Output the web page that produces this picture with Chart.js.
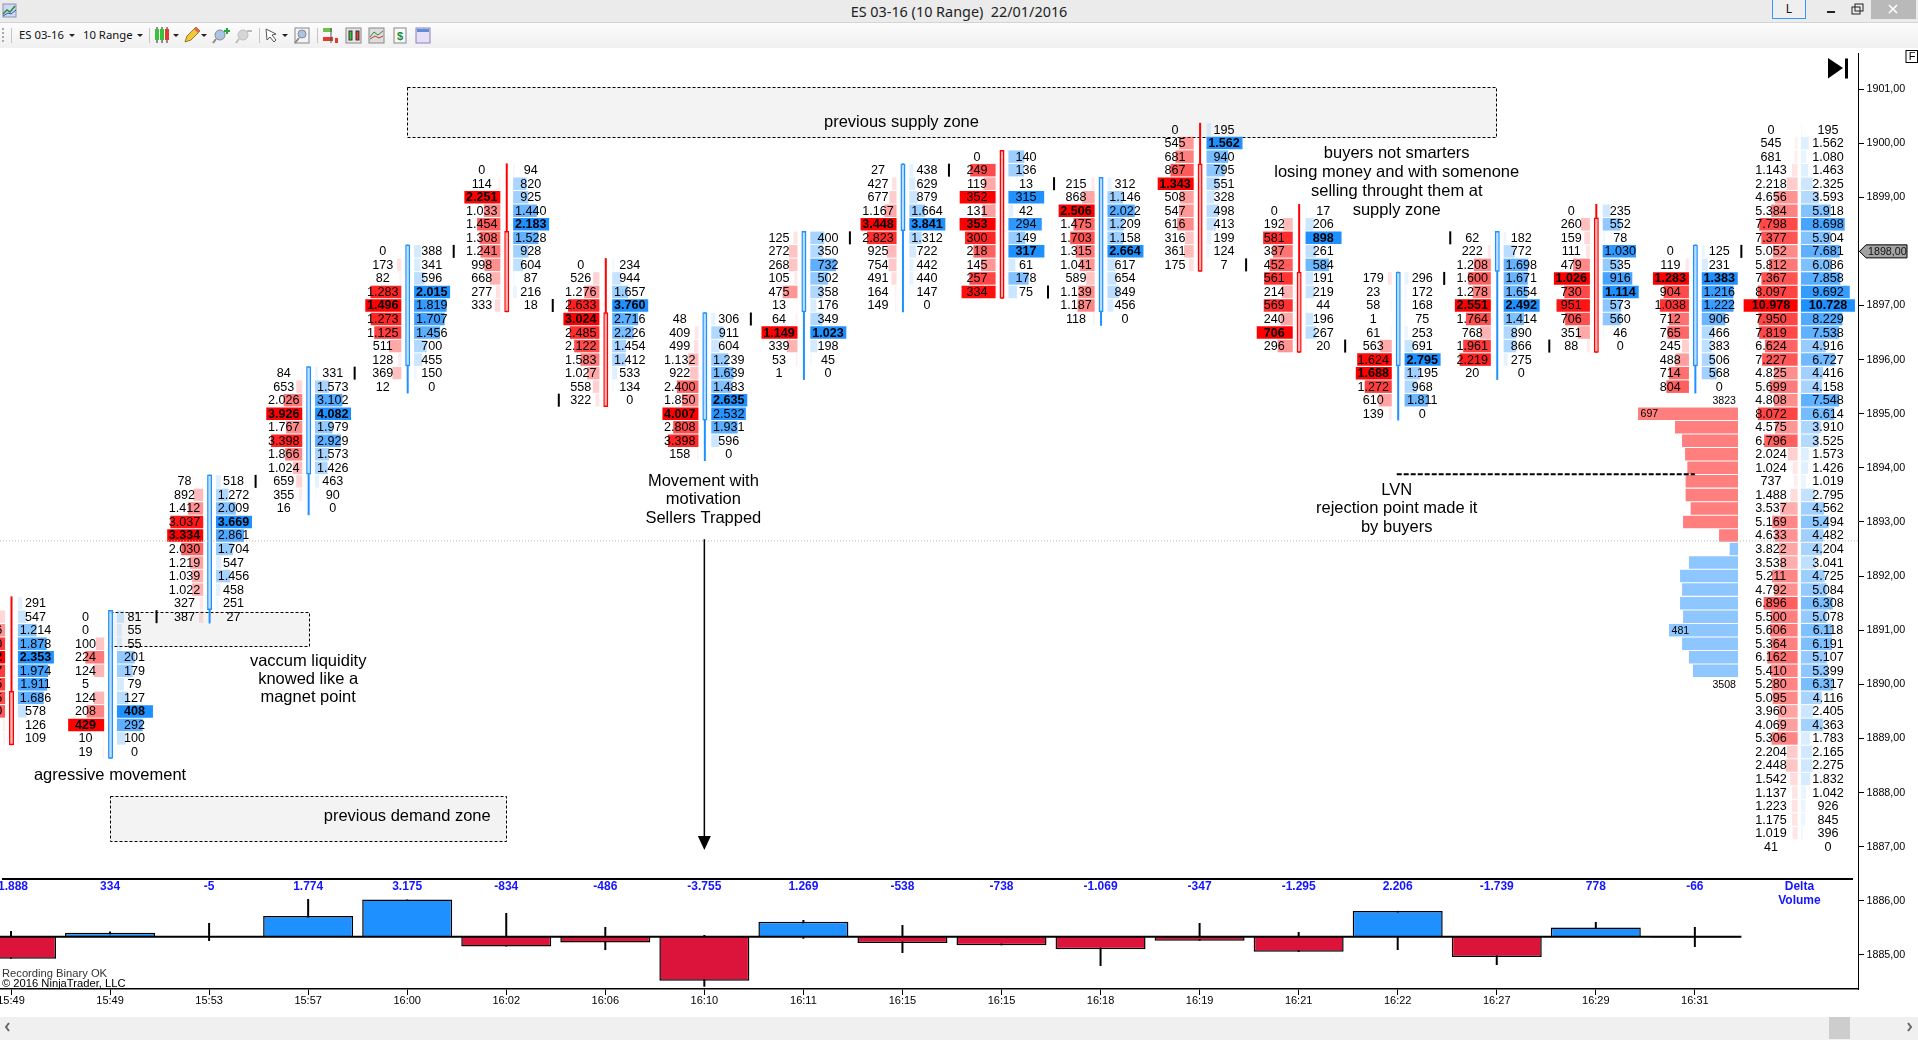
<!DOCTYPE html>
<html lang="en">
<head>
<meta charset="utf-8">
<title>ES 03-16 (10 Range) 22/01/2016</title>
<script src="https://cdn.jsdelivr.net/npm/chart.js@4/dist/chart.umd.min.js"></script>
<style>
html,body{margin:0;padding:0;width:1918px;height:1040px;overflow:hidden;background:#fff;font-family:"Liberation Sans",Arial,sans-serif}
canvas{position:absolute;left:0;top:0}
.abs{position:absolute}
#titlebar{left:0;top:0;width:1918px;height:22px;background:#ebebeb;border-bottom:1px solid #d4d4d4}
#title{left:0;top:2px;width:1918px;text-align:center;font:14.4px "Noto Sans",sans-serif;color:#222;white-space:pre}
#toolbar{left:0;top:23px;width:1918px;height:25px;background:linear-gradient(#fcfcfc,#f0f0f0)}
.tb{top:27px;font:11.3px "Noto Sans",sans-serif;color:#111;white-space:pre}
#scroll{left:0;top:1017px;width:1918px;height:23px;background:#f0f0f0}
#thumb{left:1829px;top:1017px;width:21px;height:22px;background:#cdcdcd}
#lbtn{left:1772px;top:0;width:32px;height:18px;border:1px solid #3399ff;border-top:none;background:#efefef;text-align:center;font:12px "Noto Sans",sans-serif;line-height:17px;color:#111}
#closebtn{left:1871px;top:0;width:45px;height:19px;background:#b9b9b9}
</style>
</head>
<body>
<canvas id="c" width="1918" height="1040"></canvas>
<div class="abs" id="titlebar"></div>
<div class="abs" id="title">ES 03-16 (10 Range)  22/01/2016</div>
<div class="abs" id="toolbar"></div>
<div class="abs tb" style="left:19px">ES 03-16</div>
<div class="abs tb" style="left:83px">10 Range</div>
<div class="abs" id="lbtn">L</div>
<div class="abs" id="closebtn"></div>
<svg class="abs" style="left:0;top:0" width="1918" height="48" xmlns="http://www.w3.org/2000/svg">
  <rect x="3" y="4" width="13" height="13" fill="#cfd8ee" stroke="#8a93b5"/>
  <path d="M3 14l4-4 3 2 5-6" fill="none" stroke="#2a8a3a" stroke-width="1.5"/>
  <path d="M3 16l5-3 3 1 5-4" fill="none" stroke="#2a55c0"/>
  <g fill="#aaa"><rect x="2" y="28" width="2" height="2"/><rect x="2" y="32" width="2" height="2"/><rect x="2" y="36" width="2" height="2"/><rect x="2" y="40" width="2" height="2"/></g>
  <g stroke="#c4c4c4"><line x1="11.5" y1="28" x2="11.5" y2="43"/><line x1="149.5" y1="28" x2="149.5" y2="43"/><line x1="259.5" y1="28" x2="259.5" y2="43"/><line x1="317.5" y1="28" x2="317.5" y2="43"/></g>
  <g fill="#222"><path d="M69 34h6l-3 3z"/><path d="M137 34h6l-3 3z"/><path d="M173 34h6l-3 3z"/><path d="M201 34h6l-3 3z"/><path d="M282 34h6l-3 3z"/></g>
  <g stroke="#222"><line x1="157" y1="27" x2="157" y2="43"/><line x1="162" y1="27" x2="162" y2="43"/><line x1="167" y1="27" x2="167" y2="43"/></g>
  <rect x="155" y="29" width="4" height="11" fill="#39c13c"/><rect x="160" y="29" width="4" height="11" fill="#39c13c"/><rect x="165" y="29" width="4" height="11" fill="#e23a2e"/>
  <path d="M185 42l2-6 9-9 4 4-9 9z" fill="#f0c93a" stroke="#9a7a20"/><path d="M194 29l4 4 2-2-4-4z" fill="#e8654f"/>
  <circle cx="220" cy="35" r="5" fill="#a9c4e6" stroke="#8a8a8a"/><line x1="216" y1="39" x2="213" y2="43" stroke="#888" stroke-width="2"/><path d="M224 31h6M227 28v6" stroke="#1fa83c" stroke-width="2"/>
  <circle cx="243" cy="35" r="5" fill="#d6d6d6" stroke="#bbb"/><line x1="239" y1="39" x2="236" y2="43" stroke="#bbb" stroke-width="2"/><path d="M247 31h5" stroke="#bbb" stroke-width="2"/>
  <path d="M266 29l10 5-4 1 4 5-2 2-4-5-3 3z" fill="#fff" stroke="#555"/>
  <rect x="295" y="28" width="14" height="15" fill="#f4f4f4" stroke="#888"/><circle cx="302" cy="34" r="4" fill="#a9c4e6" stroke="#888"/><line x1="299" y1="38" x2="295" y2="43" stroke="#888" stroke-width="2"/>
  <rect x="323" y="28" width="9" height="4" fill="#6cc24a"/><rect x="323" y="37" width="10" height="4" fill="#e23a2e"/><rect x="335" y="38" width="3" height="5" fill="#e23a2e"/><line x1="331" y1="28" x2="331" y2="43" stroke="#555"/>
  <rect x="346" y="28" width="15" height="15" fill="#e8e8e8" stroke="#888"/><rect x="349" y="31" width="3" height="9" fill="#39c13c" stroke="#333"/><rect x="356" y="31" width="3" height="9" fill="#e23a2e" stroke="#333"/>
  <rect x="369" y="28" width="15" height="15" fill="#ddd" stroke="#888"/><path d="M370 37l4-5 4 3 5-4" fill="none" stroke="#2a8a3a"/><path d="M370 39l5-3 4 2 4-2" fill="none" stroke="#c33"/>
  <rect x="394" y="28" width="12" height="15" fill="#f8f8f8" stroke="#888"/><text x="400" y="40" text-anchor="middle" font-family="Liberation Sans" font-weight="bold" font-size="11" fill="#1a8a3a">$</text>
  <rect x="416" y="28" width="14" height="15" fill="#e6e0f5" stroke="#8a7fc0"/><rect x="417" y="29" width="12" height="3" fill="#5c8fd6"/>
  <rect x="1827" y="11" width="8" height="2" fill="#222"/>
  <rect x="1852" y="7" width="8" height="7" fill="#ebebeb" stroke="#222"/><rect x="1855" y="4" width="8" height="7" fill="none" stroke="#222"/>
  <path d="M1889 5l8 8M1897 5l-8 8" stroke="#fff" stroke-width="1.6"/>
</svg>
<div class="abs" id="scroll"></div>
<div class="abs" id="thumb"></div>
<svg class="abs" style="left:0;top:1017px" width="1918" height="23" xmlns="http://www.w3.org/2000/svg">
  <path d="M9 6l-3 4 3 4" fill="none" stroke="#666" stroke-width="2"/><path d="M1908 6l3 4-3 4" fill="none" stroke="#666" stroke-width="2"/>
</svg>
<script>
// ---------- categories and footprint values (bid / ask per row, top row = bar high) ----------
const categories = ['15:49','15:49','15:53','15:57','16:00','16:02','16:06','16:10','16:11','16:15','16:15','16:18','16:19','16:21','16:22','16:27','16:29','16:31'];
const yTickValues = [1901,1900,1899,1898,1897,1896,1895,1894,1893,1892,1891,1890,1889,1888,1887,1886,1885];
const tickSize = 0.25;

const bar00Bid = [0,420,1156,2100,2712,2087,2065,1945,1760,180,130];
const bar00Ask = [291,547,1214,1878,2353,1974,1911,1686,578,126,109];
const bar01Bid = [0,0,100,224,124,5,124,208,429,10,19];
const bar01Ask = [81,55,55,201,179,79,127,408,292,100,0];
const bar02Bid = [78,892,1412,3037,3334,2030,1219,1039,1022,327,387];
const bar02Ask = [518,1272,2009,3669,2861,1704,547,1456,458,251,27];
const bar03Bid = [84,653,2026,3926,1767,3398,1866,1024,659,355,16];
const bar03Ask = [331,1573,3102,4082,1979,2929,1573,1426,463,90,0];
const bar04Bid = [0,173,82,1283,1496,1273,1125,511,128,369,12];
const bar04Ask = [388,341,596,2015,1819,1707,1456,700,455,150,0];
const bar05Bid = [0,114,2251,1033,1454,1308,1241,998,668,277,333];
const bar05Ask = [94,820,925,1440,2183,1528,928,604,87,216,18];
const bar06Bid = [0,526,1276,2633,3024,2485,2122,1583,1027,558,322];
const bar06Ask = [234,944,1657,3760,2716,2226,1454,1412,533,134,0];
const bar07Bid = [48,409,499,1132,922,2400,1850,4007,2808,3398,158];
const bar07Ask = [306,911,604,1239,1639,1483,2635,2532,1931,596,0];
const bar08Bid = [125,272,268,105,475,13,64,1149,339,53,1];
const bar08Ask = [400,350,732,502,358,176,349,1023,198,45,0];
const bar09Bid = [27,427,677,1167,3448,2823,925,754,491,164,149];
const bar09Ask = [438,629,879,1664,3841,1312,722,442,440,147,0];
const bar10Bid = [0,249,119,352,131,353,300,218,145,257,334];
const bar10Ask = [140,136,13,315,42,294,149,317,61,178,75];
const bar11Bid = [215,868,2506,1475,1703,1315,1041,589,1139,1187,118];
const bar11Ask = [312,1146,2022,1209,1158,2664,617,654,849,456,0];
const bar12Bid = [0,545,681,867,1343,508,547,616,316,361,175];
const bar12Ask = [195,1562,940,795,551,328,498,413,199,124,7];
const bar13Bid = [0,192,581,387,452,561,214,569,240,706,296];
const bar13Ask = [17,206,898,261,584,191,219,44,196,267,20];
const bar14Bid = [179,23,58,1,61,563,1624,1688,1272,610,139];
const bar14Ask = [296,172,168,75,253,691,2795,1195,968,1811,0];
const bar15Bid = [62,222,1208,1600,1278,2551,1764,768,1961,2219,20];
const bar15Ask = [182,772,1698,1671,1654,2492,1414,890,866,275,0];
const bar16Bid = [0,260,159,111,479,1026,730,951,706,351,88];
const bar16Ask = [235,552,78,1030,535,916,1114,573,560,46,0];
const bar17Bid = [0,119,1283,904,1038,712,765,245,488,714,804];
const bar17Ask = [125,231,1383,1216,1222,906,466,383,506,568,0];

// candles
const candleOpen  = [1889.75,1888.75,1891.5,1894,1896,1898.25,1896.75,1895,1897,1898.5,1899.75,1897,1899.5,1897.5,1896,1897.75,1898.5,1896];
const candleClose = [1889,1891.25,1893.75,1895.75,1898,1897,1895.25,1896.75,1898.25,1899.5,1897.25,1899.25,1897.75,1896.25,1897.5,1898.25,1896.25,1898];
const candleHigh  = [1891.5,1891.25,1893.75,1895.75,1898,1899.5,1897.75,1896.75,1898.25,1899.5,1899.75,1899.25,1900.25,1898.75,1897.5,1898.25,1898.75,1898];
const candleLow   = [1889,1888.75,1891.25,1893.25,1895.5,1897,1895.25,1894.25,1895.75,1897,1897.25,1896.75,1897.75,1896.25,1895,1895.75,1896.25,1895.5];
const closeMarkSide = [0,1,1,1,1,1,-1,1,1,1,1,-1,1,1,1,-1,-1,1];

// delta volume panel
const deltaValues = [-1888,334,-5,1774,3175,-834,-486,-3755,1269,-538,-738,-1069,-347,-1295,2206,-1739,778,-66];
const deltaHigh   = [490,440,1170,3220,3175,2025,830,145,1430,1000,0,0,1170,400,2206,0,1260,830];
const deltaLow    = [-1888,0,-370,0,0,-834,-1140,-4270,-170,-1390,-738,-2500,-347,-1295,-1140,-2420,0,-880];

// session footprint profile at the right
const sessionTop = 1900.25;
const sessionBid = [0,545,681,1143,2218,4656,5384,7798,7377,5052,5812,7367,8097,10978,7950,7819,6624,7227,4825,5699,4808,8072,4575,6796,2024,1024,737,1488,3537,5169,4633,3822,3538,5211,4792,6896,5500,5606,5364,6162,5410,5280,5095,3960,4069,5306,2204,2448,1542,1137,1223,1175,1019,41];
const sessionAsk = [195,1562,1080,1463,2325,3593,5918,8698,5904,7681,6086,7858,9692,10728,8229,7538,4916,6727,4416,4158,7548,6614,3910,3525,1573,1426,1019,2795,4562,5494,4482,4204,3041,4725,5084,6308,5078,6118,6191,5107,5399,6317,4116,2405,4363,1783,2165,2275,1832,1042,926,845,396,0];

// volume profile (two value areas)
const profileRedTop = 1895;
const profileRed = [697,439,390,369,353,365,365,330,383,132];
const profileRedTotal = 3823;
const profileBlueTop = 1892.5;
const profileBlue = [58,342,404,390,404,383,481,390,342,314];
const profileBlueTotal = 3508;

const bidsByBar = [bar00Bid,bar01Bid,bar02Bid,bar03Bid,bar04Bid,bar05Bid,bar06Bid,bar07Bid,bar08Bid,bar09Bid,bar10Bid,bar11Bid,bar12Bid,bar13Bid,bar14Bid,bar15Bid,bar16Bid,bar17Bid];
const asksByBar = [bar00Ask,bar01Ask,bar02Ask,bar03Ask,bar04Ask,bar05Ask,bar06Ask,bar07Ask,bar08Ask,bar09Ask,bar10Ask,bar11Ask,bar12Ask,bar13Ask,bar14Ask,bar15Ask,bar16Ask,bar17Ask];

// ---------- layout of the page, in axis terms ----------
const AREA = {left:0, right:1858, top:53, bottom:989};
const BAR_PX = 99.05, BAR0_PX = 11;                 // pixels per bar and pixel of bar 0
const PRICE_PX = 54.12, P1901_PX = 89;              // pixels per point and pixel of 1901
const DELTA_PX = 0.0117, DELTA0_PX = 936.7;         // pixels per delta unit and pixel of zero
const PROFILE_PX = 6.97, PROFILE0_PX = 1738;        // volume per pixel and pixel of zero
const xMin = (AREA.left-BAR0_PX)/BAR_PX, xMax = (AREA.right-BAR0_PX)/BAR_PX;
const yMax = 1901+(P1901_PX-AREA.top)/PRICE_PX, yMin = 1901-(AREA.bottom-P1901_PX)/PRICE_PX;
const u = px => px/BAR_PX;

const RED='255,0,0', BLUE='30,144,255';
const SESSION_BAR = 18.056;

function cellDataset(barX, top, values, sign, gap, maxW, rgb){
  const mx = Math.max(...values), data=[], colors=[];
  values.forEach((v,k)=>{
    if(!v) return;
    const a = barX+sign*u(gap), b = a+sign*u(maxW*v/mx);
    data.push({x:[Math.min(a,b),Math.max(a,b)], y:top-k*tickSize});
    colors.push(`rgba(${rgb},${Math.max(0.06,v/mx).toFixed(3)})`);
  });
  return {type:'bar',indexAxis:'y',xAxisID:'xv',yAxisID:'y',grouped:false,maxBarThickness:12.5,barPercentage:1,categoryPercentage:1,
          borderWidth:0,inflateAmount:0,backgroundColor:colors,data,order:5};
}

const datasets=[];
categories.forEach((c,i)=>{
  datasets.push(cellDataset(i,candleHigh[i],bidsByBar[i],-1,5.9,36,RED));
  datasets.push(cellDataset(i,candleHigh[i],asksByBar[i], 1,6.9,36,BLUE));
});
datasets.push(cellDataset(SESSION_BAR,sessionTop,sessionBid,-1,1.8,54,RED));
datasets.push(cellDataset(SESSION_BAR,sessionTop,sessionAsk, 1,1.5,54,BLUE));

// volume profile, on its own reversed axis
const profileSet=(top,vals,col)=>({type:'bar',indexAxis:'y',xAxisID:'xp',yAxisID:'y',grouped:false,maxBarThickness:12.5,barPercentage:1,categoryPercentage:1,
  borderWidth:0,inflateAmount:0,backgroundColor:col,data:vals.map((v,k)=>({x:v,y:top-k*tickSize})),order:6});
datasets.push(profileSet(profileRedTop,profileRed,'rgba(255,0,0,.5)'));
datasets.push(profileSet(profileBlueTop,profileBlue,'rgba(30,144,255,.5)'));

// close markers
datasets.push({type:'bar',indexAxis:'y',xAxisID:'xv',yAxisID:'y',grouped:false,maxBarThickness:13,barPercentage:1,categoryPercentage:1,borderWidth:0,inflateAmount:0,
  backgroundColor:'#000',order:2,
  data:categories.map((c,i)=>closeMarkSide[i]?{x:[i+closeMarkSide[i]*u(46.5)-u(1),i+closeMarkSide[i]*u(46.5)+u(1)],y:candleClose[i]}:null).filter(Boolean)});

const candleColor = categories.map((c,i)=>candleClose[i]>=candleOpen[i]?'rgb(30,144,255)':'rgb(255,0,0)');
// candle wicks and bodies (yc mirrors the price axis, xc is the bar axis shifted half a pixel)
datasets.push({type:'bar',xAxisID:'xc',yAxisID:'yc',grouped:false,maxBarThickness:2,barPercentage:1,categoryPercentage:1,borderWidth:0,inflateAmount:0,
  backgroundColor:candleColor,order:3,
  data:categories.map((c,i)=>({x:i,y:[candleLow[i]-tickSize/2,candleHigh[i]+tickSize/2]}))});
datasets.push({type:'bar',xAxisID:'xc',yAxisID:'yc',grouped:false,maxBarThickness:5,barPercentage:1,categoryPercentage:1,borderWidth:1.5,borderSkipped:false,inflateAmount:0,
  borderColor:candleColor,backgroundColor:'rgba(255,255,255,.7)',order:2,
  data:categories.map((c,i)=>({x:i,y:[Math.min(candleOpen[i],candleClose[i])-tickSize/2,Math.max(candleOpen[i],candleClose[i])+tickSize/2]}))});

// delta panel
datasets.push({type:'bar',xAxisID:'x',yAxisID:'yDelta',grouped:false,maxBarThickness:2,barPercentage:1,categoryPercentage:1,borderWidth:0,inflateAmount:0,
  backgroundColor:'#000',order:4,
  data:categories.map((c,i)=>({x:i,y:[deltaLow[i],deltaHigh[i]]}))});
datasets.push({type:'bar',xAxisID:'x',yAxisID:'yDelta',grouped:false,maxBarThickness:90,barPercentage:1,categoryPercentage:1,borderWidth:1.5,borderSkipped:'start',inflateAmount:0,
  borderColor:'#000',backgroundColor:deltaValues.map(v=>v>=0?'#1E90FF':'#DC143C'),order:3,
  data:categories.map((c,i)=>({x:i,y:deltaValues[i]}))});

const lineSet=(pts,yAxisID,color,width,dash)=>({type:'line',xAxisID:'x',yAxisID,data:pts,borderColor:color,borderWidth:width,borderDash:dash||[],
  pointRadius:0,fill:false,tension:0,order:1});
datasets.push(lineSet([{x:xMin,y:0},{x:17.47,y:0}],'yDelta','#000',2));                        // delta zero line
datasets.push(lineSet([{x:xMin,y:1892.65},{x:xMax,y:1892.65}],'yc','#b8b8b8',1,[1,2]));         // session divider
datasets.push(lineSet([{x:13.99,y:1893.88},{x:17,y:1893.88}],'yc','#000',2,[5,2]));              // LVN line
datasets.push(lineSet([{x:7,y:1892.68},{x:7,y:1887.1}],'yc','#000',1.5));                       // arrow shaft

const fmt = v => { const s=Math.abs(v).toString(); const t=s.length>3?s.slice(0,-3)+'.'+s.slice(-3):s; return (v<0?'-':'')+t; };
const FONT = '"Liberation Sans",Arial,sans-serif';

const zones = [
  {x0:4,x1:14.996,top:1901.04,bot:1900.11},
  {x0:1,x1:5,top:1887.94,bot:1887.1},
  {x0:1,x1:3.006,top:1891.33,bot:1890.71}
];
const notes = [
  {lines:['previous supply zone'],x:8.99,p:1900.39,lh:0},
  {lines:['previous demand zone'],x:4,p:1887.55,lh:0},
  {lines:['vaccum liquidity','knowed like a','magnet point'],x:3,p:1890.43,lh:18.4},
  {lines:['agressive movement'],x:1,p:1888.31,lh:0},
  {lines:['Movement with','motivation','Sellers Trapped'],x:6.99,p:1893.75,lh:18.4},
  {lines:['buyers not smarters','losing money and with somenone','selling throught them at','supply zone'],x:13.99,p:1899.8,lh:18.8},
  {lines:['LVN','rejection point made it','by buyers'],x:13.99,p:1893.59,lh:18.9}
];

const footprintPlugin = {
  id:'footprint',
  beforeDatasetsDraw(chart){
    const {ctx,scales:{x,y}}=chart;
    ctx.save();
    zones.forEach(z=>{
      const l=Math.round(x.getPixelForValue(z.x0))+.5, r=Math.round(x.getPixelForValue(z.x1))+.5;
      const t=Math.round(y.getPixelForValue(z.top))+.5, b=Math.round(y.getPixelForValue(z.bot))+.5;
      ctx.fillStyle='#f3f3f3'; ctx.fillRect(l,t,r-l,b-t);
      ctx.strokeStyle='#000'; ctx.lineWidth=1; ctx.setLineDash([3,2]); ctx.strokeRect(l,t,r-l,b-t);
    });
    ctx.restore();
  },
  afterDatasetsDraw(chart){
    const {ctx,scales:{x,y,xp}}=chart;
    ctx.save();
    ctx.fillStyle='#000'; ctx.textBaseline='middle'; ctx.textAlign='center';
    const drawRows=(cx,top,vals,off)=>{
      const mx=Math.max(...vals);
      vals.forEach((v,k)=>{
        ctx.font=(v===mx&&mx>0?'bold ':'')+'12.6px '+FONT;
        ctx.fillText(fmt(v),cx+off,y.getPixelForValue(top-k*tickSize)+.5);
      });
    };
    categories.forEach((c,i)=>{
      const cx=x.getPixelForValue(i);
      drawRows(cx,candleHigh[i],bidsByBar[i],-24.5);
      drawRows(cx,candleHigh[i],asksByBar[i],24.5);
    });
    const sx=x.getPixelForValue(SESSION_BAR);
    drawRows(sx,sessionTop,sessionBid,-28.5);
    drawRows(sx,sessionTop,sessionAsk,28.5);

    // volume profile labels
    ctx.font='10.6px '+FONT;
    const zero=xp.getPixelForValue(0);
    ctx.textAlign='right';
    ctx.fillText(String(profileRedTotal),zero-2,y.getPixelForValue(profileRedTop+tickSize)+.5);
    ctx.fillText(String(profileBlueTotal),zero-2,y.getPixelForValue(profileBlueTop-profileBlue.length*tickSize)+.5);
    ctx.textAlign='left';
    const r=Math.max(...profileRed), b=Math.max(...profileBlue);
    ctx.fillText(String(r),xp.getPixelForValue(r)+2.5,y.getPixelForValue(profileRedTop-profileRed.indexOf(r)*tickSize)+.5);
    ctx.fillText(String(b),xp.getPixelForValue(b)+2.5,y.getPixelForValue(profileBlueTop-profileBlue.indexOf(b)*tickSize)+.5);

    // notes
    ctx.textAlign='center';
    ctx.font='16.5px '+FONT;
    notes.forEach(n=>{
      n.lines.forEach((t,k)=>ctx.fillText(t,x.getPixelForValue(n.x),y.getPixelForValue(n.p)+k*n.lh));
    });

    // arrow head
    const ax=x.getPixelForValue(7), ay=y.getPixelForValue(1886.94);
    ctx.beginPath(); ctx.moveTo(ax,ay); ctx.lineTo(ax-6.5,ay-14); ctx.lineTo(ax+6.5,ay-14); ctx.closePath(); ctx.fill();

    // delta panel header rule, labels
    const ruleY=879;
    ctx.fillRect(2,ruleY-1,1851,2);
    ctx.fillStyle='#1414ff'; ctx.font='bold 12px '+FONT;
    categories.forEach((c,i)=>ctx.fillText(fmt(deltaValues[i]),x.getPixelForValue(i),887));
    ctx.fillText('Delta',x.getPixelForValue(SESSION_BAR),886.5);
    ctx.fillText('Volume',x.getPixelForValue(SESSION_BAR),900.5);

    // footer
    ctx.textAlign='left'; ctx.fillStyle='#333'; ctx.font='11.2px '+FONT;
    ctx.fillText('Recording Binary OK',2,974);
    ctx.fillStyle='#000';
    ctx.fillText('© 2016 NinjaTrader, LLC',2,983.5);
    ctx.restore();
  },
  afterDraw(chart){
    const {ctx,scales:{y}}=chart;
    ctx.save();
    // current price flag
    const py=y.getPixelForValue(1898);
    ctx.beginPath(); ctx.moveTo(1859.5,py); ctx.lineTo(1866,py-6.5); ctx.lineTo(1907,py-6.5); ctx.lineTo(1907,py+6.5); ctx.lineTo(1866,py+6.5); ctx.closePath();
    ctx.fillStyle='#a3a3a3'; ctx.fill(); ctx.strokeStyle='#000'; ctx.lineWidth=1; ctx.stroke();
    ctx.fillStyle='#111'; ctx.font='10.7px '+FONT; ctx.textAlign='left'; ctx.textBaseline='middle';
    ctx.fillText('1898,00',1868,py+.5);
    // go-to-end control
    ctx.fillStyle='#000';
    ctx.beginPath(); ctx.moveTo(1828,58); ctx.lineTo(1843,68); ctx.lineTo(1828,78.5); ctx.closePath(); ctx.fill();
    ctx.fillRect(1845,58.5,3,20);
    // F box
    ctx.fillStyle='#fff'; ctx.strokeStyle='#000'; ctx.strokeRect(1906,50.5,11.5,12);
    ctx.fillStyle='#000'; ctx.font='11px '+FONT; ctx.textAlign='center'; ctx.fillText('F',1912,57);
    ctx.restore();
  }
};

Chart.defaults.font.family=FONT;
Chart.defaults.color='#000';

const hiddenLinear=(o)=>Object.assign({type:'linear',display:false,offset:false,beginAtZero:false,grid:{offset:false}},o);

new Chart(document.getElementById('c'),{
  type:'bar',
  data:{labels:[],datasets},
  plugins:[footprintPlugin],
  options:{
    responsive:false,animation:false,devicePixelRatio:1,
    layout:{padding:{top:AREA.top,left:0,right:0,bottom:0}},
    plugins:{legend:{display:false},tooltip:{enabled:false},title:{display:false}},
    events:[],
    scales:{
      x:{type:'linear',position:'bottom',offset:false,beginAtZero:false,min:xMin,max:xMax,
        grid:{offset:false,drawOnChartArea:false,drawTicks:true,tickLength:6,tickColor:'#000'},
        border:{color:'#000',width:1.5},
        ticks:{autoSkip:false,maxRotation:0,minRotation:0,padding:-1,font:{size:11},color:'#000',callback:v=>categories[v]},
        afterBuildTicks:s=>{s.ticks=categories.map((c,i)=>({value:i}));},
        afterFit:s=>{s.paddingLeft=0;s.paddingRight=0;s.height=1040-AREA.bottom;}},
      xv:hiddenLinear({min:xMin,max:xMax}),
      xc:hiddenLinear({min:xMin-u(0.5),max:xMax-u(0.5)}),
      xp:hiddenLinear({reverse:true,min:(PROFILE0_PX-AREA.right)*PROFILE_PX,max:(PROFILE0_PX-AREA.left)*PROFILE_PX}),
      y:{type:'linear',position:'right',offset:false,beginAtZero:false,min:yMin,max:yMax,
        grid:{offset:false,drawOnChartArea:false,drawTicks:true,tickLength:6,tickColor:'#000'},
        border:{color:'#000',width:1},
        ticks:{autoSkip:false,padding:2.5,font:{size:10.7},color:'#000',callback:v=>v.toFixed(2).replace('.',',')},
        afterBuildTicks:s=>{s.ticks=yTickValues.map(v=>({value:v}));},
        afterFit:s=>{s.paddingTop=0;s.paddingBottom=0;s.width=1918-AREA.right;}},
      yc:hiddenLinear({min:yMin,max:yMax}),
      yDelta:hiddenLinear({min:-(AREA.bottom-DELTA0_PX)/DELTA_PX,max:(DELTA0_PX-AREA.top)/DELTA_PX})
    }
  }
});
</script>
</body>
</html>
